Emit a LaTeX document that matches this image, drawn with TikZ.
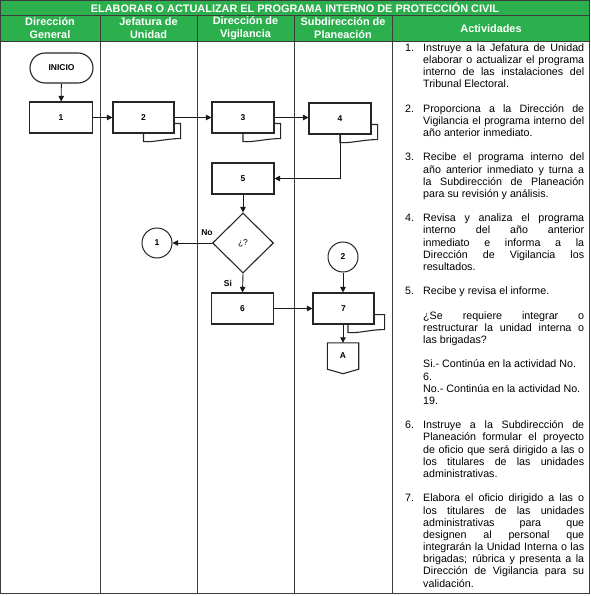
\documentclass[tikz,border=0pt]{standalone}
\usepackage{fontspec}
\setmainfont{Liberation Sans}
\usetikzlibrary{arrows.meta,shapes.geometric,calc}
\definecolor{hgreen}{RGB}{44,176,78}
\definecolor{tline}{RGB}{60,60,60}
\newcommand\doctail[3]{%
  \draw[tailline] ($(#1.south east)+(0,-10)$) -- ++(#2,0) -- ++(0,15) coordinate (tt)
    .. controls ($(tt)+(-14,0)$) and ($(#1.south)+(#3+10,9)$) .. ($(#1.south)+(#3,8)$) -- ($(#1.south)+(#3,0)$);}
\begin{document}
\begin{tikzpicture}[x=1pt,y=-1pt]
\tikzset{
 proc/.style={draw=black!85, line width=1.1pt, fill=white, minimum width=62pt, minimum height=31pt, inner sep=0pt, font=\bfseries\fontsize{8.5}{10}\selectfont},
 conn/.style={draw=black!85, line width=1pt, circle, minimum size=30pt, inner sep=0pt, font=\bfseries\fontsize{8.5}{10}\selectfont},
 arr/.style={-{Triangle[length=5.5pt,width=5.5pt]}, line width=0.9pt, draw=black!90},
 tbl/.style={draw=tline, line width=0.9pt},
 hdr/.style={text=white, font=\bfseries\fontsize{10.9}{13}\selectfont, align=center, inner sep=0pt},
 lbl/.style={font=\bfseries\fontsize{8.5}{10}\selectfont, inner sep=0pt},
 tailline/.style={draw=black!85, line width=1.1pt},
}
\useasboundingbox (0,0) rectangle (590,596);
% table
\fill[hgreen] (0,0) rectangle (589.5,41);
\draw[tbl] (0.5,0.5) rectangle (589.5,593.5);
\draw[tbl] (0.5,15.5) -- (589.5,15.5);
\draw[tbl] (0.5,41) -- (589.5,41);
\foreach \cx in {100,197,294,392} {\draw[tbl] (\cx,15.5) -- (\cx,593.5);}
% headers
\node[hdr] (title) at (295,8.2) {ELABORAR O ACTUALIZAR EL PROGRAMA INTERNO DE PROTECCIÓN CIVIL};
\node[hdr] (h1) at (50,28.3) {Dirección\\General};
\node[hdr] (h2) at (148.5,28.3) {Jefatura de\\Unidad};
\node[hdr] (h3) at (245.5,28.3) {Dirección de\\Vigilancia};
\node[hdr] (h4) at (343,28.3) {Subdirección de\\Planeación};
\node[hdr] (h5) at (491,28.3) {Actividades};
% flowchart
\node[proc, rounded corners=15pt, minimum width=63pt, minimum height=30pt] (inicio) at (61.5,68) {INICIO};
\node[proc, minimum width=63pt] (b1) at (61,117.5) {1};
\node[proc, minimum width=61pt] (b2) at (143.5,117.5) {2};
\node[proc] (b3) at (243,117.5) {3};
\node[proc] (b4) at (340,118.5) {4};
\node[proc] (b5) at (243,178.5) {5};
\node[diamond, draw=black!85, line width=1.1pt, minimum width=61pt, minimum height=60pt, inner sep=0pt, font=\fontsize{8.5}{10}\selectfont] (dq) at (243,243) {¿?};
\node[conn] (c1) at (157,243) {1};
\node[proc] (b6) at (242.5,308.5) {6};
\node[proc, minimum width=61pt] (b7) at (343.5,308.5) {7};
\node[conn] (c2) at (343,257) {2};
\node[inner sep=0pt, minimum width=31pt, minimum height=26pt, font=\bfseries\fontsize{8.5}{10}\selectfont] (offA) at (343,356) {A};
\draw[draw=black!85, line width=1.1pt] (offA.north west) -- (offA.north east) -- (offA.south east) -- ([yshift=-4.5pt]offA.south) -- (offA.south west) -- cycle;
\doctail{b2}{6}{0}
\doctail{b3}{6}{0}
\doctail{b4}{6}{0}
\doctail{b7}{10}{4.5}
% connectors
\draw[arr] (inicio) -- (b1);
\draw[arr] (b1) -- (b2);
\draw[arr] (b2) -- (b3);
\draw[arr] (b3.east) -- (b3.east -| b4.west);
\draw[arr] (b4.south) |- (b5.east);
\draw[arr] (b5) -- (dq);
\draw[arr] (dq.west) -- (c1.east);
\draw[arr] (dq.south) -- (b6.north);
\draw[arr] (b6) -- (b7);
\draw[arr] (c2.south) -- (c2.south |- b7.north);
\draw[arr] (b7.south -| offA.north) -- (offA.north);
\node[lbl] (no) at (207,233) {No};
\node[lbl] (si) at (228,283.5) {Si};
% activities
\node[anchor=north west, inner sep=0pt, text width=179pt, align=justify, font=\fontsize{10.7}{12.18}\selectfont] (acts) at (405,42.5) {%
\setlength{\parskip}{12.18pt}\tolerance=10000\hbadness=10000
\noindent\hangindent=18pt\hangafter=1\strut\makebox[18pt][l]{1.}Instruye a la Jefatura de Unidad\linebreak elaborar o actualizar el programa\linebreak interno de las instalaciones del\linebreak Tribunal Electoral.\par
\noindent\hangindent=18pt\hangafter=1\makebox[18pt][l]{2.}Proporciona a la Dirección de\linebreak Vigilancia el programa interno del\linebreak año anterior inmediato.\par
\noindent\hangindent=18pt\hangafter=1\makebox[18pt][l]{3.}Recibe el programa interno del\linebreak año anterior inmediato y turna a\linebreak la Subdirección de Planeación\linebreak para su revisión y análisis.\par
\noindent\hangindent=18pt\hangafter=1\makebox[18pt][l]{4.}Revisa y analiza el programa\linebreak interno del año anterior\linebreak inmediato e informa a la\linebreak Dirección de Vigilancia los\linebreak resultados.\par
\noindent\hangindent=18pt\hangafter=1\makebox[18pt][l]{5.}Recibe y revisa el informe.\par
\noindent\hangindent=18pt\hangafter=0 ¿Se requiere integrar o\linebreak restructurar la unidad interna o\linebreak las brigadas?\par
\noindent\hangindent=18pt\hangafter=0 Si.- Continúa en la actividad No.\newline 6.\newline No.- Continúa en la actividad No.\newline 19.\par
\noindent\hangindent=18pt\hangafter=1\makebox[18pt][l]{6.}Instruye a la Subdirección de\linebreak Planeación formular el proyecto\linebreak de oficio que será dirigido a las o\linebreak los titulares de las unidades\linebreak administrativas.\par
\noindent\hangindent=18pt\hangafter=1\makebox[18pt][l]{7.}Elabora el oficio dirigido a las o\linebreak los titulares de las unidades\linebreak administrativas para que\linebreak designen al personal que\linebreak integrarán la Unidad Interna o las\linebreak brigadas; rúbrica y presenta a la\linebreak Dirección de Vigilancia para su\linebreak validación.\par
};
\end{tikzpicture}
\end{document}
